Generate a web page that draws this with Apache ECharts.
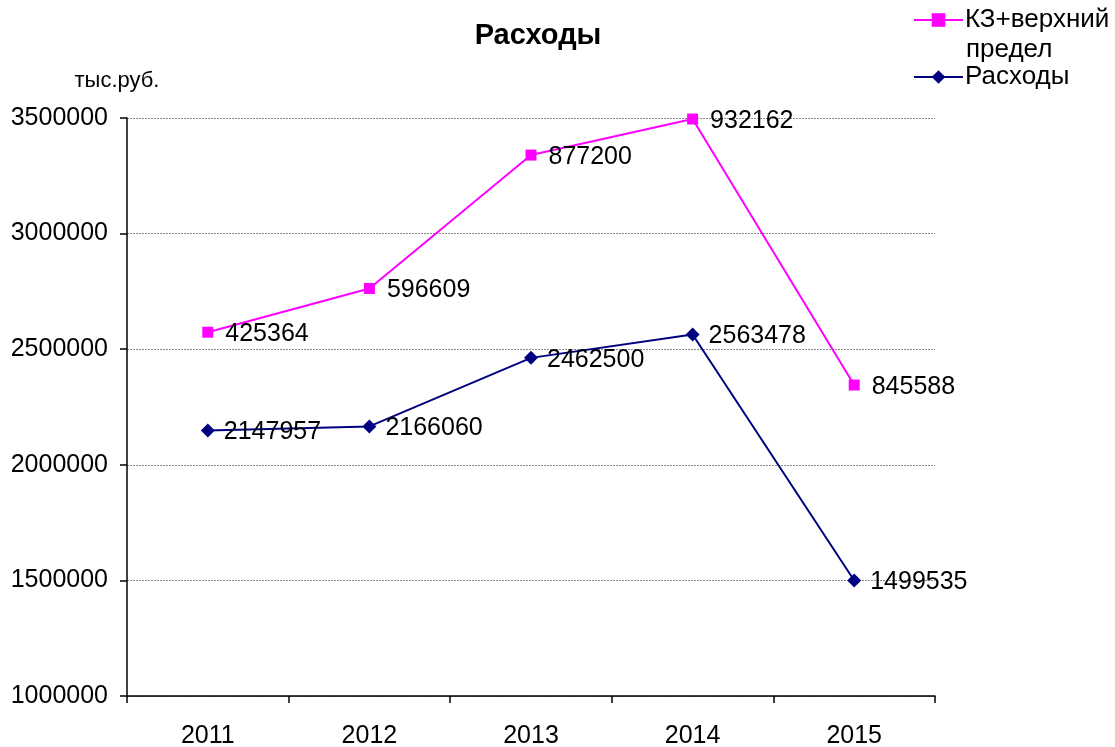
<!DOCTYPE html>
<html><head><meta charset="utf-8">
<script src="https://cdn.jsdelivr.net/npm/echarts@6/dist/echarts.min.js"></script>
<style>html,body{margin:0;padding:0;background:#fff}#c{width:1115px;height:747px}</style>
</head><body><div id="c"></div>
<script>
var years = ['2011','2012','2013','2014','2015'];
var expenses = [2147957, 2166060, 2462500, 2563478, 1499535];
var kzUpper = [425364, 596609, 877200, 932162, 845588];
var yTicks = [1000000, 1500000, 2000000, 2500000, 3000000, 3500000];

var F = '"Liberation Sans", Arial, sans-serif';
var chart = echarts.init(document.getElementById('c'));
chart.setOption({
  backgroundColor: '#fff',
  animation: false,
  title: {text: 'Расходы', left: 533, top: 16, textAlign: 'center',
    textStyle: {fontFamily: F, fontSize: 29, fontWeight: 'bold', color: '#000'}},
  legend: {orient: 'vertical', left: 913, top: 7, padding: 0, itemWidth: 49, itemHeight: 17, itemGap: 31,
    data: ['КЗ+верхний предел', 'Расходы'],
    formatter: function (n) { return n === 'КЗ+верхний предел' ? 'КЗ+верхний' : n; },
    textStyle: {fontFamily: F, fontSize: 26, color: '#000', lineHeight: 26, padding: [0,0,0,-3]}},
  graphic: [{type: 'text', left: 966, top: 37,
    style: {text: 'предел', fontFamily: F, fontSize: 26, fill: '#000'}}],
  grid: {left: 127, right: 180, top: 118, bottom: 51, outerBoundsMode: 'none', containLabel: false},
  xAxis: {type: 'category', data: years, boundaryGap: true,
    axisLine: {lineStyle: {color: '#000', width: 1.5}},
    axisTick: {show: true, length: 7, lineStyle: {color: '#000', width: 1.5}},
    axisLabel: {fontFamily: F, fontSize: 25, color: '#000', margin: 28}},
  yAxis: {type: 'value', min: yTicks[0], max: yTicks[yTicks.length-1], interval: 500000,
    name: 'тыс.руб.', nameLocation: 'end', nameGap: 26,
    nameTextStyle: {fontFamily: F, fontSize: 22, color: '#000', align: 'center', padding: [0, 20, 0, 0]},
    axisLine: {show: true, lineStyle: {color: '#000', width: 1.5}},
    axisTick: {show: true, length: 7, lineStyle: {color: '#000', width: 1.5}},
    axisLabel: {fontFamily: F, fontSize: 25, color: '#000', margin: 19,
      formatter: function (v) { return String(v); }},
    splitLine: {show: true, lineStyle: {color: '#888', width: 1, type: [2, 1]}}},
  series: [
    {name: 'Расходы', type: 'line', stack: 'total', data: expenses,
      symbol: 'diamond', symbolSize: 14, showAllSymbol: true,
      lineStyle: {color: '#000080', width: 2}, itemStyle: {color: '#000080'},
      label: {show: true, position: 'right', distance: 9, fontFamily: F, fontSize: 25, color: '#000', offset: [0, 2]}},
    {name: 'КЗ+верхний предел', type: 'line', stack: 'total', data: kzUpper,
      symbol: 'rect', symbolSize: 11, showAllSymbol: true,
      lineStyle: {color: '#FF00FF', width: 2}, itemStyle: {color: '#FF00FF'},
      label: {show: true, position: 'right', distance: 12, fontFamily: F, fontSize: 25, color: '#000', offset: [0, 2]}}
  ]
});
</script></body></html>
